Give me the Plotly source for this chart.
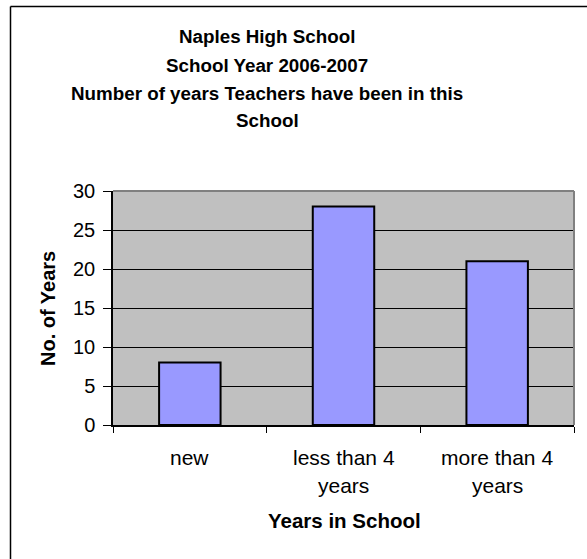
import plotly.graph_objects as go

categories = ["new", "less than 4 years", "more than 4 years"]
tick_lines = [["new"], ["less than 4", "years"], ["more than 4", "years"]]
values = [8, 28, 21]
title_lines = ["Naples High School", "School Year 2006-2007",
               "Number of years Teachers have been in this", "School"]
y_ticks = [0, 5, 10, 15, 20, 25, 30]

W, H = 587, 559
L, R, T, B = 113, 574, 191, 425

def px(x):
    return (x - L) / (R - L)

def py(y):
    return (B - y) / (B - T)

FONT = "Liberation Sans, Arial, sans-serif"

fig = go.Figure(go.Bar(
    x=categories, y=values,
    marker=dict(color="#9999FF", line=dict(color="black", width=2)),
    width=0.4,
))

ann = []
for i, (t, yy) in enumerate(zip(title_lines, [37, 66, 94, 121])):
    ann.append(dict(text="<b>%s</b>" % t, x=px(267), y=py(yy), xref="paper", yref="paper",
                    showarrow=False, xanchor="center", yanchor="middle",
                    font=dict(size=18.8, color="black", family=FONT)))
for cat, lines in zip(categories, tick_lines):
    for j, ln in enumerate(lines):
        ann.append(dict(text=ln, x=cat, y=py(457 + 28 * j), xref="x", yref="paper",
                        showarrow=False, xanchor="center", yanchor="middle",
                        font=dict(size=21, color="black", family=FONT)))
ann.append(dict(text="<b>Years in School</b>", x=px(344), y=py(520), xref="paper", yref="paper",
                showarrow=False, xanchor="center", yanchor="middle",
                font=dict(size=20.5, color="black", family=FONT)))
ann.append(dict(text="<b>No. of Years</b>", x=px(48), y=py(309), xref="paper", yref="paper",
                showarrow=False, xanchor="center", yanchor="middle", textangle=-90,
                font=dict(size=20, color="black", family=FONT)))

shapes = [
    # plot area top/right border (gray)
    dict(type="line", xref="paper", yref="paper", x0=0, x1=1, y0=1, y1=1,
         line=dict(color="#808080", width=2), layer="above"),
    dict(type="line", xref="paper", yref="paper", x0=1, x1=1, y0=0, y1=1,
         line=dict(color="#808080", width=2), layer="above"),
    # outer chart border
    dict(type="line", xref="paper", yref="paper", x0=px(10.5), x1=px(10.5), y0=py(6.5), y1=py(560),
         line=dict(color="black", width=1.5)),
    dict(type="line", xref="paper", yref="paper", x0=px(10.5), x1=px(590), y0=py(6.5), y1=py(6.5),
         line=dict(color="black", width=1.5)),
]

fig.update_layout(
    width=W, height=H,
    margin=dict(l=L, r=W - R, t=T, b=H - B, pad=0),
    paper_bgcolor="white", plot_bgcolor="#C0C0C0",
    showlegend=False,
    font=dict(family=FONT, size=16, color="black"),
    annotations=ann, shapes=shapes,
    xaxis=dict(showline=True, linecolor="black", linewidth=1.5,
               ticks="outside", ticklen=6, tickcolor="black", tickwidth=1,
               tickson="boundaries", showticklabels=False, showgrid=False,
               range=[-0.5, 2.5], fixedrange=True),
    yaxis=dict(range=[0, 30], tickvals=y_ticks, showline=True, linecolor="black", linewidth=1.5,
               ticks="outside", ticklen=8, tickcolor="black", tickwidth=1,
               ticklabelstandoff=4,
               showgrid=True, gridcolor="black", gridwidth=1, zeroline=False,
               tickfont=dict(size=20, family=FONT, color="black"), fixedrange=True),
)

fig.write_html("out.html")
